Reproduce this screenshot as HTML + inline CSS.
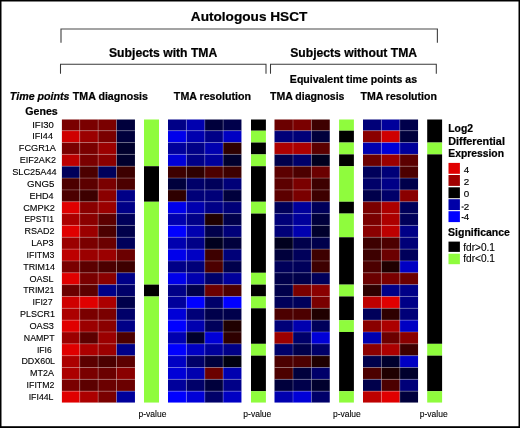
<!DOCTYPE html>
<html><head><meta charset="utf-8"><title>Autologous HSCT</title>
<style>html,body{margin:0;padding:0;background:#fff;}body{width:520px;height:428px;overflow:hidden;}svg{display:block;will-change:transform;}text{font-family:"Liberation Sans",sans-serif;fill:#000;}.b{font-weight:bold;}.bi{font-weight:bold;font-style:italic;}</style></head><body>
<svg width="520" height="428" viewBox="0 0 520 428">
<rect x="0" y="0" width="520" height="428" fill="#000"/>
<rect x="1.5" y="1.5" width="517.0" height="424.7" fill="#fff"/>
<text class="b" x="190.82" y="20.80" font-size="13.50" textLength="116.52" lengthAdjust="spacingAndGlyphs" stroke="#000" stroke-width="0.22">Autologous HSCT</text>
<text class="b" x="109.00" y="57.10" font-size="12.00" textLength="108.28" lengthAdjust="spacingAndGlyphs" stroke="#000" stroke-width="0.22">Subjects with TMA</text>
<text class="b" x="290.20" y="57.10" font-size="12.00" textLength="126.88" lengthAdjust="spacingAndGlyphs" stroke="#000" stroke-width="0.22">Subjects without TMA</text>
<text class="b" x="289.88" y="82.90" font-size="10.50" textLength="127.15" lengthAdjust="spacingAndGlyphs" stroke="#000" stroke-width="0.22">Equivalent time points as</text>
<text class="bi" x="9.86" y="99.80" font-size="10.50" textLength="59.66" lengthAdjust="spacingAndGlyphs" stroke="#000" stroke-width="0.22">Time points</text>
<text class="b" x="72.89" y="99.80" font-size="10.50" textLength="75.05" lengthAdjust="spacingAndGlyphs" stroke="#000" stroke-width="0.22">TMA diagnosis</text>
<text class="b" x="173.88" y="99.80" font-size="10.50" textLength="77.15" lengthAdjust="spacingAndGlyphs" stroke="#000" stroke-width="0.22">TMA resolution</text>
<text class="b" x="270.08" y="99.80" font-size="10.50" textLength="74.35" lengthAdjust="spacingAndGlyphs" stroke="#000" stroke-width="0.22">TMA diagnosis</text>
<text class="b" x="360.49" y="99.80" font-size="10.50" textLength="76.34" lengthAdjust="spacingAndGlyphs" stroke="#000" stroke-width="0.22">TMA resolution</text>
<text class="b" x="25.29" y="114.80" font-size="10.30" textLength="32.43" lengthAdjust="spacingAndGlyphs" stroke="#000" stroke-width="0.22">Genes</text>
<g fill="none" stroke="#3a3a3a">
<path stroke-width="1.15" stroke="#484848" d="M61 42.7 V28.95 H437.4 V42.7"/>
<path stroke-width="1.05" d="M60.5 73.8 V64.3 H266 V73.8"/>
<path stroke-width="1.05" d="M270.5 73.8 V64.3 H436.3 V73.8"/>
</g>
<rect x="61.90" y="119.50" width="17.85" height="11.25" fill="#7a0000"/>
<rect x="79.70" y="119.50" width="18.45" height="11.25" fill="#7a0000"/>
<rect x="98.10" y="119.50" width="18.45" height="11.25" fill="#7a0000"/>
<rect x="116.50" y="119.50" width="18.45" height="11.25" fill="#00003c"/>
<rect x="61.90" y="130.70" width="17.85" height="11.89" fill="#cf0000"/>
<rect x="79.70" y="130.70" width="18.45" height="11.89" fill="#9b0000"/>
<rect x="98.10" y="130.70" width="18.45" height="11.89" fill="#7a0000"/>
<rect x="116.50" y="130.70" width="18.45" height="11.89" fill="#00003c"/>
<rect x="61.90" y="142.54" width="17.85" height="11.89" fill="#7a0000"/>
<rect x="79.70" y="142.54" width="18.45" height="11.89" fill="#7a0000"/>
<rect x="98.10" y="142.54" width="18.45" height="11.89" fill="#9b0000"/>
<rect x="116.50" y="142.54" width="18.45" height="11.89" fill="#00002d"/>
<rect x="61.90" y="154.38" width="17.85" height="11.89" fill="#bd0000"/>
<rect x="79.70" y="154.38" width="18.45" height="11.89" fill="#7a0000"/>
<rect x="98.10" y="154.38" width="18.45" height="11.89" fill="#8a0000"/>
<rect x="116.50" y="154.38" width="18.45" height="11.89" fill="#00002d"/>
<rect x="61.90" y="166.22" width="17.85" height="11.89" fill="#00005a"/>
<rect x="79.70" y="166.22" width="18.45" height="11.89" fill="#4c0000"/>
<rect x="98.10" y="166.22" width="18.45" height="11.89" fill="#00005a"/>
<rect x="116.50" y="166.22" width="18.45" height="11.89" fill="#3d0000"/>
<rect x="61.90" y="178.06" width="17.85" height="11.89" fill="#4c0000"/>
<rect x="79.70" y="178.06" width="18.45" height="11.89" fill="#5c0000"/>
<rect x="98.10" y="178.06" width="18.45" height="11.89" fill="#7a0000"/>
<rect x="116.50" y="178.06" width="18.45" height="11.89" fill="#4c0000"/>
<rect x="61.90" y="189.90" width="17.85" height="11.89" fill="#4c0000"/>
<rect x="79.70" y="189.90" width="18.45" height="11.89" fill="#3d0000"/>
<rect x="98.10" y="189.90" width="18.45" height="11.89" fill="#8a0000"/>
<rect x="116.50" y="189.90" width="18.45" height="11.89" fill="#000087"/>
<rect x="61.90" y="201.74" width="17.85" height="11.89" fill="#e00000"/>
<rect x="79.70" y="201.74" width="18.45" height="11.89" fill="#8a0000"/>
<rect x="98.10" y="201.74" width="18.45" height="11.89" fill="#9b0000"/>
<rect x="116.50" y="201.74" width="18.45" height="11.89" fill="#000087"/>
<rect x="61.90" y="213.58" width="17.85" height="11.89" fill="#ac0000"/>
<rect x="79.70" y="213.58" width="18.45" height="11.89" fill="#8a0000"/>
<rect x="98.10" y="213.58" width="18.45" height="11.89" fill="#5c0000"/>
<rect x="116.50" y="213.58" width="18.45" height="11.89" fill="#00005a"/>
<rect x="61.90" y="225.42" width="17.85" height="11.89" fill="#e00000"/>
<rect x="79.70" y="225.42" width="18.45" height="11.89" fill="#9b0000"/>
<rect x="98.10" y="225.42" width="18.45" height="11.89" fill="#4c0000"/>
<rect x="116.50" y="225.42" width="18.45" height="11.89" fill="#00004b"/>
<rect x="61.90" y="237.26" width="17.85" height="11.89" fill="#9b0000"/>
<rect x="79.70" y="237.26" width="18.45" height="11.89" fill="#7a0000"/>
<rect x="98.10" y="237.26" width="18.45" height="11.89" fill="#6b0000"/>
<rect x="116.50" y="237.26" width="18.45" height="11.89" fill="#00005a"/>
<rect x="61.90" y="249.10" width="17.85" height="11.89" fill="#bd0000"/>
<rect x="79.70" y="249.10" width="18.45" height="11.89" fill="#9b0000"/>
<rect x="98.10" y="249.10" width="18.45" height="11.89" fill="#9b0000"/>
<rect x="116.50" y="249.10" width="18.45" height="11.89" fill="#6b0000"/>
<rect x="61.90" y="260.94" width="17.85" height="11.89" fill="#7a0000"/>
<rect x="79.70" y="260.94" width="18.45" height="11.89" fill="#5c0000"/>
<rect x="98.10" y="260.94" width="18.45" height="11.89" fill="#4c0000"/>
<rect x="116.50" y="260.94" width="18.45" height="11.89" fill="#3d0000"/>
<rect x="61.90" y="272.78" width="17.85" height="11.89" fill="#e00000"/>
<rect x="79.70" y="272.78" width="18.45" height="11.89" fill="#7a0000"/>
<rect x="98.10" y="272.78" width="18.45" height="11.89" fill="#8a0000"/>
<rect x="116.50" y="272.78" width="18.45" height="11.89" fill="#000087"/>
<rect x="61.90" y="284.62" width="17.85" height="11.89" fill="#6b0000"/>
<rect x="79.70" y="284.62" width="18.45" height="11.89" fill="#5c0000"/>
<rect x="98.10" y="284.62" width="18.45" height="11.89" fill="#000087"/>
<rect x="116.50" y="284.62" width="18.45" height="11.89" fill="#000069"/>
<rect x="61.90" y="296.46" width="17.85" height="11.89" fill="#cf0000"/>
<rect x="79.70" y="296.46" width="18.45" height="11.89" fill="#e00000"/>
<rect x="98.10" y="296.46" width="18.45" height="11.89" fill="#ac0000"/>
<rect x="116.50" y="296.46" width="18.45" height="11.89" fill="#00004b"/>
<rect x="61.90" y="308.30" width="17.85" height="11.89" fill="#ac0000"/>
<rect x="79.70" y="308.30" width="18.45" height="11.89" fill="#7a0000"/>
<rect x="98.10" y="308.30" width="18.45" height="11.89" fill="#7a0000"/>
<rect x="116.50" y="308.30" width="18.45" height="11.89" fill="#000069"/>
<rect x="61.90" y="320.14" width="17.85" height="11.89" fill="#e00000"/>
<rect x="79.70" y="320.14" width="18.45" height="11.89" fill="#9b0000"/>
<rect x="98.10" y="320.14" width="18.45" height="11.89" fill="#8a0000"/>
<rect x="116.50" y="320.14" width="18.45" height="11.89" fill="#000087"/>
<rect x="61.90" y="331.98" width="17.85" height="11.89" fill="#9b0000"/>
<rect x="79.70" y="331.98" width="18.45" height="11.89" fill="#5c0000"/>
<rect x="98.10" y="331.98" width="18.45" height="11.89" fill="#9b0000"/>
<rect x="116.50" y="331.98" width="18.45" height="11.89" fill="#4c0000"/>
<rect x="61.90" y="343.82" width="17.85" height="11.89" fill="#e00000"/>
<rect x="79.70" y="343.82" width="18.45" height="11.89" fill="#ac0000"/>
<rect x="98.10" y="343.82" width="18.45" height="11.89" fill="#9b0000"/>
<rect x="116.50" y="343.82" width="18.45" height="11.89" fill="#000087"/>
<rect x="61.90" y="355.66" width="17.85" height="11.89" fill="#ac0000"/>
<rect x="79.70" y="355.66" width="18.45" height="11.89" fill="#5c0000"/>
<rect x="98.10" y="355.66" width="18.45" height="11.89" fill="#4c0000"/>
<rect x="116.50" y="355.66" width="18.45" height="11.89" fill="#5c0000"/>
<rect x="61.90" y="367.50" width="17.85" height="11.89" fill="#ac0000"/>
<rect x="79.70" y="367.50" width="18.45" height="11.89" fill="#7a0000"/>
<rect x="98.10" y="367.50" width="18.45" height="11.89" fill="#6b0000"/>
<rect x="116.50" y="367.50" width="18.45" height="11.89" fill="#8a0000"/>
<rect x="61.90" y="379.34" width="17.85" height="11.89" fill="#7a0000"/>
<rect x="79.70" y="379.34" width="18.45" height="11.89" fill="#5c0000"/>
<rect x="98.10" y="379.34" width="18.45" height="11.89" fill="#6b0000"/>
<rect x="116.50" y="379.34" width="18.45" height="11.89" fill="#6b0000"/>
<rect x="61.90" y="391.18" width="17.85" height="11.37" fill="#e00000"/>
<rect x="79.70" y="391.18" width="18.45" height="11.37" fill="#ac0000"/>
<rect x="98.10" y="391.18" width="18.45" height="11.37" fill="#7a0000"/>
<rect x="116.50" y="391.18" width="18.45" height="11.37" fill="#00009b"/>
<path d="M79.70 119.50 V402.50 M98.10 119.50 V402.50 M116.50 119.50 V402.50 M61.90 130.70 H134.90 M61.90 142.54 H134.90 M61.90 154.38 H134.90 M61.90 166.22 H134.90 M61.90 178.06 H134.90 M61.90 189.90 H134.90 M61.90 201.74 H134.90 M61.90 213.58 H134.90 M61.90 225.42 H134.90 M61.90 237.26 H134.90 M61.90 249.10 H134.90 M61.90 260.94 H134.90 M61.90 272.78 H134.90 M61.90 284.62 H134.90 M61.90 296.46 H134.90 M61.90 308.30 H134.90 M61.90 320.14 H134.90 M61.90 331.98 H134.90 M61.90 343.82 H134.90 M61.90 355.66 H134.90 M61.90 367.50 H134.90 M61.90 379.34 H134.90 M61.90 391.18 H134.90" stroke="#fff" stroke-opacity="0.36" stroke-width="0.7" fill="none"/>
<rect x="144.00" y="119.50" width="15.00" height="46.77" fill="#8ffc3d"/>
<rect x="144.00" y="166.22" width="15.00" height="35.57" fill="#000"/>
<rect x="144.00" y="201.74" width="15.00" height="82.93" fill="#8ffc3d"/>
<rect x="144.00" y="284.62" width="15.00" height="11.89" fill="#000"/>
<rect x="144.00" y="296.46" width="15.00" height="106.09" fill="#8ffc3d"/>
<rect x="168.00" y="119.50" width="18.45" height="11.25" fill="#000087"/>
<rect x="186.40" y="119.50" width="18.45" height="11.25" fill="#0000af"/>
<rect x="204.80" y="119.50" width="18.35" height="11.25" fill="#00003c"/>
<rect x="223.10" y="119.50" width="18.35" height="11.25" fill="#00004b"/>
<rect x="168.00" y="130.70" width="18.45" height="11.89" fill="#0000eb"/>
<rect x="186.40" y="130.70" width="18.45" height="11.89" fill="#0000af"/>
<rect x="204.80" y="130.70" width="18.35" height="11.89" fill="#000087"/>
<rect x="223.10" y="130.70" width="18.35" height="11.89" fill="#0000c3"/>
<rect x="168.00" y="142.54" width="18.45" height="11.89" fill="#00009b"/>
<rect x="186.40" y="142.54" width="18.45" height="11.89" fill="#000087"/>
<rect x="204.80" y="142.54" width="18.35" height="11.89" fill="#0000af"/>
<rect x="223.10" y="142.54" width="18.35" height="11.89" fill="#2e0000"/>
<rect x="168.00" y="154.38" width="18.45" height="11.89" fill="#0000d7"/>
<rect x="186.40" y="154.38" width="18.45" height="11.89" fill="#000087"/>
<rect x="204.80" y="154.38" width="18.35" height="11.89" fill="#00009b"/>
<rect x="223.10" y="154.38" width="18.35" height="11.89" fill="#00002d"/>
<rect x="168.00" y="166.22" width="18.45" height="11.89" fill="#3d0000"/>
<rect x="186.40" y="166.22" width="18.45" height="11.89" fill="#2e0000"/>
<rect x="204.80" y="166.22" width="18.35" height="11.89" fill="#4c0000"/>
<rect x="223.10" y="166.22" width="18.35" height="11.89" fill="#3d0000"/>
<rect x="168.00" y="178.06" width="18.45" height="11.89" fill="#00003c"/>
<rect x="186.40" y="178.06" width="18.45" height="11.89" fill="#000069"/>
<rect x="204.80" y="178.06" width="18.35" height="11.89" fill="#00005a"/>
<rect x="223.10" y="178.06" width="18.35" height="11.89" fill="#000078"/>
<rect x="168.00" y="189.90" width="18.45" height="11.89" fill="#2e0000"/>
<rect x="186.40" y="189.90" width="18.45" height="11.89" fill="#000078"/>
<rect x="204.80" y="189.90" width="18.35" height="11.89" fill="#000078"/>
<rect x="223.10" y="189.90" width="18.35" height="11.89" fill="#00003c"/>
<rect x="168.00" y="201.74" width="18.45" height="11.89" fill="#0000eb"/>
<rect x="186.40" y="201.74" width="18.45" height="11.89" fill="#0000af"/>
<rect x="204.80" y="201.74" width="18.35" height="11.89" fill="#000087"/>
<rect x="223.10" y="201.74" width="18.35" height="11.89" fill="#000078"/>
<rect x="168.00" y="213.58" width="18.45" height="11.89" fill="#0000af"/>
<rect x="186.40" y="213.58" width="18.45" height="11.89" fill="#000087"/>
<rect x="204.80" y="213.58" width="18.35" height="11.89" fill="#1f0000"/>
<rect x="223.10" y="213.58" width="18.35" height="11.89" fill="#00004b"/>
<rect x="168.00" y="225.42" width="18.45" height="11.89" fill="#0000ff"/>
<rect x="186.40" y="225.42" width="18.45" height="11.89" fill="#0000af"/>
<rect x="204.80" y="225.42" width="18.35" height="11.89" fill="#00004b"/>
<rect x="223.10" y="225.42" width="18.35" height="11.89" fill="#000078"/>
<rect x="168.00" y="237.26" width="18.45" height="11.89" fill="#0000af"/>
<rect x="186.40" y="237.26" width="18.45" height="11.89" fill="#000087"/>
<rect x="204.80" y="237.26" width="18.35" height="11.89" fill="#00001e"/>
<rect x="223.10" y="237.26" width="18.35" height="11.89" fill="#00003c"/>
<rect x="168.00" y="249.10" width="18.45" height="11.89" fill="#0000eb"/>
<rect x="186.40" y="249.10" width="18.45" height="11.89" fill="#0000c3"/>
<rect x="204.80" y="249.10" width="18.35" height="11.89" fill="#3d0000"/>
<rect x="223.10" y="249.10" width="18.35" height="11.89" fill="#000078"/>
<rect x="168.00" y="260.94" width="18.45" height="11.89" fill="#000087"/>
<rect x="186.40" y="260.94" width="18.45" height="11.89" fill="#000078"/>
<rect x="204.80" y="260.94" width="18.35" height="11.89" fill="#4c0000"/>
<rect x="223.10" y="260.94" width="18.35" height="11.89" fill="#00004b"/>
<rect x="168.00" y="272.78" width="18.45" height="11.89" fill="#0000eb"/>
<rect x="186.40" y="272.78" width="18.45" height="11.89" fill="#0000af"/>
<rect x="204.80" y="272.78" width="18.35" height="11.89" fill="#000069"/>
<rect x="223.10" y="272.78" width="18.35" height="11.89" fill="#00009b"/>
<rect x="168.00" y="284.62" width="18.45" height="11.89" fill="#000087"/>
<rect x="186.40" y="284.62" width="18.45" height="11.89" fill="#00004b"/>
<rect x="204.80" y="284.62" width="18.35" height="11.89" fill="#6b0000"/>
<rect x="223.10" y="284.62" width="18.35" height="11.89" fill="#4c0000"/>
<rect x="168.00" y="296.46" width="18.45" height="11.89" fill="#00009b"/>
<rect x="186.40" y="296.46" width="18.45" height="11.89" fill="#0000ff"/>
<rect x="204.80" y="296.46" width="18.35" height="11.89" fill="#000069"/>
<rect x="223.10" y="296.46" width="18.35" height="11.89" fill="#0000ff"/>
<rect x="168.00" y="308.30" width="18.45" height="11.89" fill="#0000d7"/>
<rect x="186.40" y="308.30" width="18.45" height="11.89" fill="#000078"/>
<rect x="204.80" y="308.30" width="18.35" height="11.89" fill="#00004b"/>
<rect x="223.10" y="308.30" width="18.35" height="11.89" fill="#00004b"/>
<rect x="168.00" y="320.14" width="18.45" height="11.89" fill="#0000ff"/>
<rect x="186.40" y="320.14" width="18.45" height="11.89" fill="#0000af"/>
<rect x="204.80" y="320.14" width="18.35" height="11.89" fill="#00005a"/>
<rect x="223.10" y="320.14" width="18.35" height="11.89" fill="#1f0000"/>
<rect x="168.00" y="331.98" width="18.45" height="11.89" fill="#0000af"/>
<rect x="186.40" y="331.98" width="18.45" height="11.89" fill="#00002d"/>
<rect x="204.80" y="331.98" width="18.35" height="11.89" fill="#0000d7"/>
<rect x="223.10" y="331.98" width="18.35" height="11.89" fill="#2e0000"/>
<rect x="168.00" y="343.82" width="18.45" height="11.89" fill="#0000ff"/>
<rect x="186.40" y="343.82" width="18.45" height="11.89" fill="#0000c3"/>
<rect x="204.80" y="343.82" width="18.35" height="11.89" fill="#00009b"/>
<rect x="223.10" y="343.82" width="18.35" height="11.89" fill="#000087"/>
<rect x="168.00" y="355.66" width="18.45" height="11.89" fill="#0000c3"/>
<rect x="186.40" y="355.66" width="18.45" height="11.89" fill="#000069"/>
<rect x="204.80" y="355.66" width="18.35" height="11.89" fill="#00003c"/>
<rect x="223.10" y="355.66" width="18.35" height="11.89" fill="#00000f"/>
<rect x="168.00" y="367.50" width="18.45" height="11.89" fill="#0000d7"/>
<rect x="186.40" y="367.50" width="18.45" height="11.89" fill="#0000af"/>
<rect x="204.80" y="367.50" width="18.35" height="11.89" fill="#6b0000"/>
<rect x="223.10" y="367.50" width="18.35" height="11.89" fill="#0000af"/>
<rect x="168.00" y="379.34" width="18.45" height="11.89" fill="#00009b"/>
<rect x="186.40" y="379.34" width="18.45" height="11.89" fill="#000069"/>
<rect x="204.80" y="379.34" width="18.35" height="11.89" fill="#00003c"/>
<rect x="223.10" y="379.34" width="18.35" height="11.89" fill="#000087"/>
<rect x="168.00" y="391.18" width="18.45" height="11.37" fill="#0000ff"/>
<rect x="186.40" y="391.18" width="18.45" height="11.37" fill="#0000d7"/>
<rect x="204.80" y="391.18" width="18.35" height="11.37" fill="#000069"/>
<rect x="223.10" y="391.18" width="18.35" height="11.37" fill="#0000c3"/>
<path d="M186.40 119.50 V402.50 M204.80 119.50 V402.50 M223.10 119.50 V402.50 M168.00 130.70 H241.40 M168.00 142.54 H241.40 M168.00 154.38 H241.40 M168.00 166.22 H241.40 M168.00 178.06 H241.40 M168.00 189.90 H241.40 M168.00 201.74 H241.40 M168.00 213.58 H241.40 M168.00 225.42 H241.40 M168.00 237.26 H241.40 M168.00 249.10 H241.40 M168.00 260.94 H241.40 M168.00 272.78 H241.40 M168.00 284.62 H241.40 M168.00 296.46 H241.40 M168.00 308.30 H241.40 M168.00 320.14 H241.40 M168.00 331.98 H241.40 M168.00 343.82 H241.40 M168.00 355.66 H241.40 M168.00 367.50 H241.40 M168.00 379.34 H241.40 M168.00 391.18 H241.40" stroke="#fff" stroke-opacity="0.36" stroke-width="0.7" fill="none"/>
<rect x="251.00" y="119.50" width="14.90" height="11.25" fill="#000"/>
<rect x="251.00" y="130.70" width="14.90" height="11.89" fill="#8ffc3d"/>
<rect x="251.00" y="142.54" width="14.90" height="11.89" fill="#000"/>
<rect x="251.00" y="154.38" width="14.90" height="11.89" fill="#8ffc3d"/>
<rect x="251.00" y="166.22" width="14.90" height="35.57" fill="#000"/>
<rect x="251.00" y="201.74" width="14.90" height="11.89" fill="#8ffc3d"/>
<rect x="251.00" y="213.58" width="14.90" height="59.25" fill="#000"/>
<rect x="251.00" y="272.78" width="14.90" height="11.89" fill="#8ffc3d"/>
<rect x="251.00" y="284.62" width="14.90" height="11.89" fill="#000"/>
<rect x="251.00" y="296.46" width="14.90" height="11.89" fill="#8ffc3d"/>
<rect x="251.00" y="308.30" width="14.90" height="35.57" fill="#000"/>
<rect x="251.00" y="343.82" width="14.90" height="11.89" fill="#8ffc3d"/>
<rect x="251.00" y="355.66" width="14.90" height="35.57" fill="#000"/>
<rect x="251.00" y="391.18" width="14.90" height="11.37" fill="#8ffc3d"/>
<rect x="274.50" y="119.50" width="18.55" height="11.25" fill="#6b0000"/>
<rect x="293.00" y="119.50" width="18.45" height="11.25" fill="#7a0000"/>
<rect x="311.40" y="119.50" width="18.35" height="11.25" fill="#3d0000"/>
<rect x="274.50" y="130.70" width="18.55" height="11.89" fill="#000078"/>
<rect x="293.00" y="130.70" width="18.45" height="11.89" fill="#000078"/>
<rect x="311.40" y="130.70" width="18.35" height="11.89" fill="#00003c"/>
<rect x="274.50" y="142.54" width="18.55" height="11.89" fill="#ac0000"/>
<rect x="293.00" y="142.54" width="18.45" height="11.89" fill="#ac0000"/>
<rect x="311.40" y="142.54" width="18.35" height="11.89" fill="#5c0000"/>
<rect x="274.50" y="154.38" width="18.55" height="11.89" fill="#00004b"/>
<rect x="293.00" y="154.38" width="18.45" height="11.89" fill="#000069"/>
<rect x="311.40" y="154.38" width="18.35" height="11.89" fill="#00001e"/>
<rect x="274.50" y="166.22" width="18.55" height="11.89" fill="#5c0000"/>
<rect x="293.00" y="166.22" width="18.45" height="11.89" fill="#4c0000"/>
<rect x="311.40" y="166.22" width="18.35" height="11.89" fill="#6b0000"/>
<rect x="274.50" y="178.06" width="18.55" height="11.89" fill="#5c0000"/>
<rect x="293.00" y="178.06" width="18.45" height="11.89" fill="#7a0000"/>
<rect x="311.40" y="178.06" width="18.35" height="11.89" fill="#3d0000"/>
<rect x="274.50" y="189.90" width="18.55" height="11.89" fill="#5c0000"/>
<rect x="293.00" y="189.90" width="18.45" height="11.89" fill="#7a0000"/>
<rect x="311.40" y="189.90" width="18.35" height="11.89" fill="#3d0000"/>
<rect x="274.50" y="201.74" width="18.55" height="11.89" fill="#00005a"/>
<rect x="293.00" y="201.74" width="18.45" height="11.89" fill="#00009b"/>
<rect x="311.40" y="201.74" width="18.35" height="11.89" fill="#00005a"/>
<rect x="274.50" y="213.58" width="18.55" height="11.89" fill="#000078"/>
<rect x="293.00" y="213.58" width="18.45" height="11.89" fill="#00009b"/>
<rect x="311.40" y="213.58" width="18.35" height="11.89" fill="#00003c"/>
<rect x="274.50" y="225.42" width="18.55" height="11.89" fill="#000078"/>
<rect x="293.00" y="225.42" width="18.45" height="11.89" fill="#0000af"/>
<rect x="311.40" y="225.42" width="18.35" height="11.89" fill="#00002d"/>
<rect x="274.50" y="237.26" width="18.55" height="11.89" fill="#00001e"/>
<rect x="293.00" y="237.26" width="18.45" height="11.89" fill="#00004b"/>
<rect x="311.40" y="237.26" width="18.35" height="11.89" fill="#00004b"/>
<rect x="274.50" y="249.10" width="18.55" height="11.89" fill="#00003c"/>
<rect x="293.00" y="249.10" width="18.45" height="11.89" fill="#00005a"/>
<rect x="311.40" y="249.10" width="18.35" height="11.89" fill="#3d0000"/>
<rect x="274.50" y="260.94" width="18.55" height="11.89" fill="#00005a"/>
<rect x="293.00" y="260.94" width="18.45" height="11.89" fill="#00005a"/>
<rect x="311.40" y="260.94" width="18.35" height="11.89" fill="#3d0000"/>
<rect x="274.50" y="272.78" width="18.55" height="11.89" fill="#00004b"/>
<rect x="293.00" y="272.78" width="18.45" height="11.89" fill="#00004b"/>
<rect x="311.40" y="272.78" width="18.35" height="11.89" fill="#00005a"/>
<rect x="274.50" y="284.62" width="18.55" height="11.89" fill="#00004b"/>
<rect x="293.00" y="284.62" width="18.45" height="11.89" fill="#7a0000"/>
<rect x="311.40" y="284.62" width="18.35" height="11.89" fill="#8a0000"/>
<rect x="274.50" y="296.46" width="18.55" height="11.89" fill="#00005a"/>
<rect x="293.00" y="296.46" width="18.45" height="11.89" fill="#00005a"/>
<rect x="311.40" y="296.46" width="18.35" height="11.89" fill="#7a0000"/>
<rect x="274.50" y="308.30" width="18.55" height="11.89" fill="#4c0000"/>
<rect x="293.00" y="308.30" width="18.45" height="11.89" fill="#4c0000"/>
<rect x="311.40" y="308.30" width="18.35" height="11.89" fill="#1f0000"/>
<rect x="274.50" y="320.14" width="18.55" height="11.89" fill="#000078"/>
<rect x="293.00" y="320.14" width="18.45" height="11.89" fill="#0000af"/>
<rect x="311.40" y="320.14" width="18.35" height="11.89" fill="#00005a"/>
<rect x="274.50" y="331.98" width="18.55" height="11.89" fill="#9b0000"/>
<rect x="293.00" y="331.98" width="18.45" height="11.89" fill="#000069"/>
<rect x="311.40" y="331.98" width="18.35" height="11.89" fill="#0000d7"/>
<rect x="274.50" y="343.82" width="18.55" height="11.89" fill="#000069"/>
<rect x="293.00" y="343.82" width="18.45" height="11.89" fill="#00004b"/>
<rect x="311.40" y="343.82" width="18.35" height="11.89" fill="#000069"/>
<rect x="274.50" y="355.66" width="18.55" height="11.89" fill="#4c0000"/>
<rect x="293.00" y="355.66" width="18.45" height="11.89" fill="#4c0000"/>
<rect x="311.40" y="355.66" width="18.35" height="11.89" fill="#1f0000"/>
<rect x="274.50" y="367.50" width="18.55" height="11.89" fill="#4c0000"/>
<rect x="293.00" y="367.50" width="18.45" height="11.89" fill="#00003c"/>
<rect x="311.40" y="367.50" width="18.35" height="11.89" fill="#000069"/>
<rect x="274.50" y="379.34" width="18.55" height="11.89" fill="#00003c"/>
<rect x="293.00" y="379.34" width="18.45" height="11.89" fill="#00004b"/>
<rect x="311.40" y="379.34" width="18.35" height="11.89" fill="#00002d"/>
<rect x="274.50" y="391.18" width="18.55" height="11.37" fill="#0000af"/>
<rect x="293.00" y="391.18" width="18.45" height="11.37" fill="#0000d7"/>
<rect x="311.40" y="391.18" width="18.35" height="11.37" fill="#000069"/>
<path d="M293.00 119.50 V402.50 M311.40 119.50 V402.50 M274.50 130.70 H329.70 M274.50 142.54 H329.70 M274.50 154.38 H329.70 M274.50 166.22 H329.70 M274.50 178.06 H329.70 M274.50 189.90 H329.70 M274.50 201.74 H329.70 M274.50 213.58 H329.70 M274.50 225.42 H329.70 M274.50 237.26 H329.70 M274.50 249.10 H329.70 M274.50 260.94 H329.70 M274.50 272.78 H329.70 M274.50 284.62 H329.70 M274.50 296.46 H329.70 M274.50 308.30 H329.70 M274.50 320.14 H329.70 M274.50 331.98 H329.70 M274.50 343.82 H329.70 M274.50 355.66 H329.70 M274.50 367.50 H329.70 M274.50 379.34 H329.70 M274.50 391.18 H329.70" stroke="#fff" stroke-opacity="0.36" stroke-width="0.7" fill="none"/>
<rect x="339.10" y="119.50" width="14.80" height="11.25" fill="#8ffc3d"/>
<rect x="339.10" y="130.70" width="14.80" height="11.89" fill="#000"/>
<rect x="339.10" y="142.54" width="14.80" height="11.89" fill="#8ffc3d"/>
<rect x="339.10" y="154.38" width="14.80" height="11.89" fill="#000"/>
<rect x="339.10" y="166.22" width="14.80" height="35.57" fill="#8ffc3d"/>
<rect x="339.10" y="201.74" width="14.80" height="11.89" fill="#000"/>
<rect x="339.10" y="213.58" width="14.80" height="23.73" fill="#8ffc3d"/>
<rect x="339.10" y="237.26" width="14.80" height="47.41" fill="#000"/>
<rect x="339.10" y="284.62" width="14.80" height="11.89" fill="#8ffc3d"/>
<rect x="339.10" y="296.46" width="14.80" height="23.73" fill="#000"/>
<rect x="339.10" y="320.14" width="14.80" height="11.89" fill="#8ffc3d"/>
<rect x="339.10" y="331.98" width="14.80" height="59.25" fill="#000"/>
<rect x="339.10" y="391.18" width="14.80" height="11.37" fill="#8ffc3d"/>
<rect x="363.00" y="119.50" width="18.45" height="11.25" fill="#000078"/>
<rect x="381.40" y="119.50" width="18.45" height="11.25" fill="#00009b"/>
<rect x="399.80" y="119.50" width="18.25" height="11.25" fill="#00004b"/>
<rect x="363.00" y="130.70" width="18.45" height="11.89" fill="#8a0000"/>
<rect x="381.40" y="130.70" width="18.45" height="11.89" fill="#cf0000"/>
<rect x="399.80" y="130.70" width="18.25" height="11.89" fill="#00003c"/>
<rect x="363.00" y="142.54" width="18.45" height="11.89" fill="#0000af"/>
<rect x="381.40" y="142.54" width="18.45" height="11.89" fill="#0000d7"/>
<rect x="399.80" y="142.54" width="18.25" height="11.89" fill="#00009b"/>
<rect x="363.00" y="154.38" width="18.45" height="11.89" fill="#6b0000"/>
<rect x="381.40" y="154.38" width="18.45" height="11.89" fill="#9b0000"/>
<rect x="399.80" y="154.38" width="18.25" height="11.89" fill="#5c0000"/>
<rect x="363.00" y="166.22" width="18.45" height="11.89" fill="#00005a"/>
<rect x="381.40" y="166.22" width="18.45" height="11.89" fill="#000078"/>
<rect x="399.80" y="166.22" width="18.25" height="11.89" fill="#4c0000"/>
<rect x="363.00" y="178.06" width="18.45" height="11.89" fill="#000069"/>
<rect x="381.40" y="178.06" width="18.45" height="11.89" fill="#000087"/>
<rect x="399.80" y="178.06" width="18.25" height="11.89" fill="#00004b"/>
<rect x="363.00" y="189.90" width="18.45" height="11.89" fill="#00004b"/>
<rect x="381.40" y="189.90" width="18.45" height="11.89" fill="#000069"/>
<rect x="399.80" y="189.90" width="18.25" height="11.89" fill="#8a0000"/>
<rect x="363.00" y="201.74" width="18.45" height="11.89" fill="#7a0000"/>
<rect x="381.40" y="201.74" width="18.45" height="11.89" fill="#ac0000"/>
<rect x="399.80" y="201.74" width="18.25" height="11.89" fill="#00005a"/>
<rect x="363.00" y="213.58" width="18.45" height="11.89" fill="#7a0000"/>
<rect x="381.40" y="213.58" width="18.45" height="11.89" fill="#ac0000"/>
<rect x="399.80" y="213.58" width="18.25" height="11.89" fill="#00005a"/>
<rect x="363.00" y="225.42" width="18.45" height="11.89" fill="#8a0000"/>
<rect x="381.40" y="225.42" width="18.45" height="11.89" fill="#bd0000"/>
<rect x="399.80" y="225.42" width="18.25" height="11.89" fill="#000087"/>
<rect x="363.00" y="237.26" width="18.45" height="11.89" fill="#3d0000"/>
<rect x="381.40" y="237.26" width="18.45" height="11.89" fill="#4c0000"/>
<rect x="399.80" y="237.26" width="18.25" height="11.89" fill="#000078"/>
<rect x="363.00" y="249.10" width="18.45" height="11.89" fill="#3d0000"/>
<rect x="381.40" y="249.10" width="18.45" height="11.89" fill="#6b0000"/>
<rect x="399.80" y="249.10" width="18.25" height="11.89" fill="#00005a"/>
<rect x="363.00" y="260.94" width="18.45" height="11.89" fill="#4c0000"/>
<rect x="381.40" y="260.94" width="18.45" height="11.89" fill="#1f0000"/>
<rect x="399.80" y="260.94" width="18.25" height="11.89" fill="#0000c3"/>
<rect x="363.00" y="272.78" width="18.45" height="11.89" fill="#6b0000"/>
<rect x="381.40" y="272.78" width="18.45" height="11.89" fill="#7a0000"/>
<rect x="399.80" y="272.78" width="18.25" height="11.89" fill="#6b0000"/>
<rect x="363.00" y="284.62" width="18.45" height="11.89" fill="#2e0000"/>
<rect x="381.40" y="284.62" width="18.45" height="11.89" fill="#000087"/>
<rect x="399.80" y="284.62" width="18.25" height="11.89" fill="#000087"/>
<rect x="363.00" y="296.46" width="18.45" height="11.89" fill="#bd0000"/>
<rect x="381.40" y="296.46" width="18.45" height="11.89" fill="#e00000"/>
<rect x="399.80" y="296.46" width="18.25" height="11.89" fill="#000087"/>
<rect x="363.00" y="308.30" width="18.45" height="11.89" fill="#00005a"/>
<rect x="381.40" y="308.30" width="18.45" height="11.89" fill="#2e0000"/>
<rect x="399.80" y="308.30" width="18.25" height="11.89" fill="#000078"/>
<rect x="363.00" y="320.14" width="18.45" height="11.89" fill="#8a0000"/>
<rect x="381.40" y="320.14" width="18.45" height="11.89" fill="#ac0000"/>
<rect x="399.80" y="320.14" width="18.25" height="11.89" fill="#0000c3"/>
<rect x="363.00" y="331.98" width="18.45" height="11.89" fill="#0000af"/>
<rect x="381.40" y="331.98" width="18.45" height="11.89" fill="#6b0000"/>
<rect x="399.80" y="331.98" width="18.25" height="11.89" fill="#8a0000"/>
<rect x="363.00" y="343.82" width="18.45" height="11.89" fill="#8a0000"/>
<rect x="381.40" y="343.82" width="18.45" height="11.89" fill="#ac0000"/>
<rect x="399.80" y="343.82" width="18.25" height="11.89" fill="#3d0000"/>
<rect x="363.00" y="355.66" width="18.45" height="11.89" fill="#00004b"/>
<rect x="381.40" y="355.66" width="18.45" height="11.89" fill="#00002d"/>
<rect x="399.80" y="355.66" width="18.25" height="11.89" fill="#0000c3"/>
<rect x="363.00" y="367.50" width="18.45" height="11.89" fill="#4c0000"/>
<rect x="381.40" y="367.50" width="18.45" height="11.89" fill="#1f0000"/>
<rect x="399.80" y="367.50" width="18.25" height="11.89" fill="#00002d"/>
<rect x="363.00" y="379.34" width="18.45" height="11.89" fill="#00004b"/>
<rect x="381.40" y="379.34" width="18.45" height="11.89" fill="#4c0000"/>
<rect x="399.80" y="379.34" width="18.25" height="11.89" fill="#000078"/>
<rect x="363.00" y="391.18" width="18.45" height="11.37" fill="#bd0000"/>
<rect x="381.40" y="391.18" width="18.45" height="11.37" fill="#e00000"/>
<rect x="399.80" y="391.18" width="18.25" height="11.37" fill="#00003c"/>
<path d="M381.40 119.50 V402.50 M399.80 119.50 V402.50 M363.00 130.70 H418.00 M363.00 142.54 H418.00 M363.00 154.38 H418.00 M363.00 166.22 H418.00 M363.00 178.06 H418.00 M363.00 189.90 H418.00 M363.00 201.74 H418.00 M363.00 213.58 H418.00 M363.00 225.42 H418.00 M363.00 237.26 H418.00 M363.00 249.10 H418.00 M363.00 260.94 H418.00 M363.00 272.78 H418.00 M363.00 284.62 H418.00 M363.00 296.46 H418.00 M363.00 308.30 H418.00 M363.00 320.14 H418.00 M363.00 331.98 H418.00 M363.00 343.82 H418.00 M363.00 355.66 H418.00 M363.00 367.50 H418.00 M363.00 379.34 H418.00 M363.00 391.18 H418.00" stroke="#fff" stroke-opacity="0.36" stroke-width="0.7" fill="none"/>
<rect x="427.20" y="119.50" width="14.90" height="23.09" fill="#000"/>
<rect x="427.20" y="142.54" width="14.90" height="11.89" fill="#8ffc3d"/>
<rect x="427.20" y="154.38" width="14.90" height="189.49" fill="#000"/>
<rect x="427.20" y="343.82" width="14.90" height="11.89" fill="#8ffc3d"/>
<rect x="427.20" y="355.66" width="14.90" height="35.57" fill="#000"/>
<rect x="427.20" y="391.18" width="14.90" height="11.37" fill="#8ffc3d"/>
<text x="32.2" y="127.63" font-size="9" textLength="21.7" lengthAdjust="spacingAndGlyphs" stroke="#000" stroke-width="0.12">IFI30</text>
<text x="32.2" y="139.47" font-size="9" textLength="20.8" lengthAdjust="spacingAndGlyphs" stroke="#000" stroke-width="0.12">IFI44</text>
<text x="18.8" y="151.31" font-size="9" textLength="37.2" lengthAdjust="spacingAndGlyphs" stroke="#000" stroke-width="0.12">FCGR1A</text>
<text x="19.7" y="163.15" font-size="9" textLength="36.3" lengthAdjust="spacingAndGlyphs" stroke="#000" stroke-width="0.12">EIF2AK2</text>
<text x="12.2" y="174.99" font-size="9" textLength="44.5" lengthAdjust="spacingAndGlyphs" stroke="#000" stroke-width="0.12">SLC25A44</text>
<text x="27.0" y="186.83" font-size="9" textLength="27.5" lengthAdjust="spacingAndGlyphs" stroke="#000" stroke-width="0.12">GNG5</text>
<text x="29.4" y="198.67" font-size="9" textLength="24.2" lengthAdjust="spacingAndGlyphs" stroke="#000" stroke-width="0.12">EHD4</text>
<text x="23.2" y="210.51" font-size="9" textLength="31.7" lengthAdjust="spacingAndGlyphs" stroke="#000" stroke-width="0.12">CMPK2</text>
<text x="24.4" y="222.35" font-size="9" textLength="29.5" lengthAdjust="spacingAndGlyphs" stroke="#000" stroke-width="0.12">EPSTI1</text>
<text x="24.4" y="234.19" font-size="9" textLength="30.1" lengthAdjust="spacingAndGlyphs" stroke="#000" stroke-width="0.12">RSAD2</text>
<text x="31.3" y="246.03" font-size="9" textLength="22.3" lengthAdjust="spacingAndGlyphs" stroke="#000" stroke-width="0.12">LAP3</text>
<text x="26.6" y="257.87" font-size="9" textLength="27.9" lengthAdjust="spacingAndGlyphs" stroke="#000" stroke-width="0.12">IFITM3</text>
<text x="23.2" y="269.71" font-size="9" textLength="31.7" lengthAdjust="spacingAndGlyphs" stroke="#000" stroke-width="0.12">TRIM14</text>
<text x="29.4" y="281.55" font-size="9" textLength="24.2" lengthAdjust="spacingAndGlyphs" stroke="#000" stroke-width="0.12">OASL</text>
<text x="23.2" y="293.39" font-size="9" textLength="31.3" lengthAdjust="spacingAndGlyphs" stroke="#000" stroke-width="0.12">TRIM21</text>
<text x="32.6" y="305.23" font-size="9" textLength="20.0" lengthAdjust="spacingAndGlyphs" stroke="#000" stroke-width="0.12">IFI27</text>
<text x="20.1" y="317.07" font-size="9" textLength="34.8" lengthAdjust="spacingAndGlyphs" stroke="#000" stroke-width="0.12">PLSCR1</text>
<text x="29.4" y="328.91" font-size="9" textLength="24.5" lengthAdjust="spacingAndGlyphs" stroke="#000" stroke-width="0.12">OAS3</text>
<text x="23.8" y="340.75" font-size="9" textLength="30.7" lengthAdjust="spacingAndGlyphs" stroke="#000" stroke-width="0.12">NAMPT</text>
<text x="36.9" y="352.59" font-size="9" textLength="14.8" lengthAdjust="spacingAndGlyphs" stroke="#000" stroke-width="0.12">IFI6</text>
<text x="21.4" y="364.43" font-size="9" textLength="33.7" lengthAdjust="spacingAndGlyphs" stroke="#000" stroke-width="0.12">DDX60L</text>
<text x="30.0" y="376.27" font-size="9" textLength="23.9" lengthAdjust="spacingAndGlyphs" stroke="#000" stroke-width="0.12">MT2A</text>
<text x="26.6" y="388.11" font-size="9" textLength="27.9" lengthAdjust="spacingAndGlyphs" stroke="#000" stroke-width="0.12">IFITM2</text>
<text x="28.7" y="399.95" font-size="9" textLength="24.8" lengthAdjust="spacingAndGlyphs" stroke="#000" stroke-width="0.12">IFI44L</text>
<text x="138.55" y="416.50" font-size="9.00" textLength="27.91" lengthAdjust="spacingAndGlyphs" stroke="#000" stroke-width="0.10">p-value</text>
<text x="243.35" y="416.50" font-size="9.00" textLength="27.91" lengthAdjust="spacingAndGlyphs" stroke="#000" stroke-width="0.10">p-value</text>
<text x="332.95" y="416.50" font-size="9.00" textLength="27.91" lengthAdjust="spacingAndGlyphs" stroke="#000" stroke-width="0.10">p-value</text>
<text x="419.75" y="416.50" font-size="9.00" textLength="27.91" lengthAdjust="spacingAndGlyphs" stroke="#000" stroke-width="0.10">p-value</text>
<text class="b" x="448.27" y="132.30" font-size="10.60" textLength="24.85" lengthAdjust="spacingAndGlyphs" stroke="#000" stroke-width="0.22">Log2</text>
<text class="b" x="448.27" y="145.20" font-size="10.60" textLength="56.65" lengthAdjust="spacingAndGlyphs" stroke="#000" stroke-width="0.22">Differential</text>
<text class="b" x="448.27" y="157.20" font-size="10.60" textLength="55.75" lengthAdjust="spacingAndGlyphs" stroke="#000" stroke-width="0.22">Expression</text>
<rect x="448.5" y="162.90" width="11.4" height="10.9" fill="#e00000"/>
<text x="463.7" y="173.00" font-size="9.8" stroke="#000" stroke-width="0.15">4</text>
<rect x="448.5" y="175.00" width="11.4" height="10.9" fill="#a00000"/>
<text x="463.7" y="185.20" font-size="9.8" stroke="#000" stroke-width="0.15">2</text>
<rect x="448.5" y="187.30" width="11.4" height="10.9" fill="#000000"/>
<text x="463.7" y="196.80" font-size="9.8" stroke="#000" stroke-width="0.15">0</text>
<rect x="448.5" y="199.20" width="11.4" height="10.9" fill="#0000a8"/>
<text x="463.7" y="209.90" font-size="9.8" stroke="#000" stroke-width="0.15">2</text>
<rect x="461.6" y="206.50" width="2.1" height="1.1" fill="#000"/>
<rect x="448.5" y="211.20" width="11.4" height="10.9" fill="#0000ff"/>
<text x="463.7" y="220.40" font-size="9.8" stroke="#000" stroke-width="0.15">4</text>
<rect x="461.6" y="217.00" width="2.1" height="1.1" fill="#000"/>
<text class="b" x="448.08" y="236.00" font-size="10.50" textLength="61.84" lengthAdjust="spacingAndGlyphs" stroke="#000" stroke-width="0.22">Significance</text>
<rect x="448.5" y="241.6" width="11.4" height="10.3" fill="#000"/>
<rect x="448.5" y="253.7" width="11.4" height="10.5" fill="#8ffc3d"/>
<text x="463.20" y="251.20" font-size="10.00" textLength="31.80" lengthAdjust="spacingAndGlyphs" stroke="#000" stroke-width="0.12">fdr&gt;0.1</text>
<text x="463.20" y="262.40" font-size="10.00" textLength="31.80" lengthAdjust="spacingAndGlyphs" stroke="#000" stroke-width="0.12">fdr&lt;0.1</text>
</svg></body></html>
